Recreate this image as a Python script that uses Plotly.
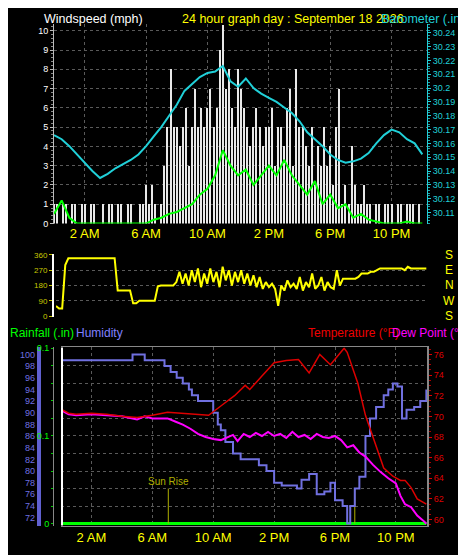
import plotly.graph_objects as go

# ---------------- data ----------------
hour_ticks = [2, 6, 10, 14, 18, 22]
hour_labels = ["2 AM", "6 AM", "10 AM", "2 PM", "6 PM", "10 PM"]

gust_step = 0.2
gust = [1,1,0,1,1,0,1,1,0,1,
        1,0,1,1,0,0,1,0,1,1,
        0,1,1,0,1,1,0,0,1,1,
        2,1,2,1,0,1,3,5,8,5,
        5,4,5,6,3,5,7,5,6,5,
        6,7,5,6,9,10.3,7,8,6,5,
        8,7,6,5,4,5,6,5,4,5,
        5,6,3,5,5,4,6,7,3,8,
        5,5,4,3,5,2,4,3,5,3,
        4,2,5,7,1,2,1,4,2,1,
        1,2,1,1,0,1,1,0,1,1,
        1,0,1,1,0,1,1,1,0,1]

half_step = 0.5
wind_avg = [0.5,1.2,0.3,0,0,0,0,0,0,0,
            0,0,0,0.2,0.3,0.5,0.6,0.8,1,1.5,
            1.8,2.5,3.8,3,2.5,2.8,2,2.5,3,2.5,
            3.3,2.5,2,1.5,2.2,1,1.5,0.8,1,0.3,
            0.5,0.2,0.1,0,0,0,0.1,0,0]

baro = [30.166,30.163,30.158,30.152,30.146,30.140,30.135,30.138,30.142,30.145,
        30.148,30.152,30.158,30.165,30.172,30.180,30.188,30.198,30.203,30.208,
        30.211,30.212,30.216,30.205,30.201,30.207,30.200,30.196,30.193,30.190,
        30.186,30.182,30.176,30.168,30.163,30.158,30.152,30.148,30.146,30.147,
        30.149,30.153,30.160,30.166,30.170,30.168,30.163,30.160,30.152]

dir_step = 0.2
wind_dir = [60,45,45,300,340,340,340,340,340,340,
            340,340,340,340,340,340,340,340,340,340,
            150,150,150,150,150,75,75,90,90,90,
            90,90,90,175,180,180,180,180,180,200,
            260,190,250,180,270,200,280,170,250,190,
            280,200,260,170,290,210,270,180,260,200,
            270,190,250,180,240,170,230,160,200,170,
            190,160,60,180,150,210,170,190,160,230,
            150,200,170,250,160,180,230,150,200,170,
            160,270,180,220,220,220,220,220,230,250,
            250,250,260,260,270,280,280,280,280,280,
            280,280,280,270,290,280,280,280,280,280,280]

hum_hours = [0,4.7,5.5,6.8,7.2,7.6,8,8.4,8.6,9,9.4,10,10.3,10.5,10.8,11.3,11.8,13,13.5,14,
             14.5,15.5,15.8,16.3,16.8,17.3,17.7,18,18.5,18.8,19,19.3,19.6,20,20.3,20.7,21.2,21.5,21.8,22.1,
             22.4,22.7,23.2,23.6,24]
hum_vals = [99,100,99,98,97,96,95,94,93,92,92,90,88,87,85,83,82,81,80,78,
            77.5,77,78.5,79.5,76,76.5,78,75,74,71,74,77,79,86,89,91,93,94,95,94.5,
            89,90.5,91,92,94]

temp_hours = [0,0.5,1,2,3,4,5,6,7,8,9,9.7,10.5,11.4,12.1,12.4,13.2,14,14.8,15.6,
              16.3,17,17.7,18.6,18.8,19.5,20,20.6,21.2,21.8,22.3,22.6,23,23.4,24]
temp_vals = [70.7,70.3,70.2,70.3,70.2,70,69.9,70.1,70.4,70.3,70.2,70.1,71,72,73,72.6,73.9,75.2,75.4,75.5,
             74.2,76,75,76.6,76.2,73.2,70.1,67.5,65,64.2,63.8,63.8,63.1,62,61.5]

dew_hours = [0,0.5,1,2,3,4,5,5.5,6,7,7.5,8,8.5,9,9.5,10,10.5,11,11.3,11.6,
             12,12.4,12.8,13.2,13.6,14,14.4,14.8,15.2,15.6,16,16.4,16.8,17.2,17.6,18,18.4,18.8,19.2,19.6,
             20,20.5,21,21.5,22,22.3,22.6,23,23.4,23.8,24]
dew_vals = [70.6,70.2,70.1,70.2,70.1,70,69.7,70,69.8,69.8,69.5,69.2,68.8,68.3,68,67.8,67.7,68,68.2,67.6,
            68.3,68,68.4,68.1,68.5,68.1,68.3,67.9,68.5,68,68.2,67.8,68.3,68,67.9,68.1,67.7,67,67.2,66.5,
            66.1,65.3,64.6,64,63.5,62.3,61.5,61.2,60.4,59.9,59.6]

rain_hours = [0, 24]
rain_vals = [0, 0]

sunrise = 7.05
sunset = 19.3

# ---------------- figure ----------------
F = "Liberation Sans"
YEL = "#ffff00"
fig = go.Figure()

gx = [i * gust_step for i in range(len(gust))]
fig.add_trace(go.Bar(x=gx, y=gust, width=0.08, marker=dict(color="#e8e8e8", line=dict(width=0)),
                     xaxis="x", yaxis="y"))
fig.add_trace(go.Scatter(x=[i * half_step for i in range(len(wind_avg))], y=wind_avg, mode="lines",
                         line=dict(color="#00ff00", width=2), xaxis="x", yaxis="y"))
fig.add_trace(go.Scatter(x=[i * half_step for i in range(len(baro))], y=baro, mode="lines",
                         line=dict(color="#20d0d8", width=2), xaxis="x", yaxis="y2"))
fig.add_trace(go.Scatter(x=[i * dir_step for i in range(len(wind_dir))], y=wind_dir, mode="lines",
                         line=dict(color=YEL, width=2), xaxis="x2", yaxis="y3"))
fig.add_trace(go.Scatter(x=rain_hours, y=rain_vals, mode="lines", line=dict(color="#00ff00", width=3),
                         xaxis="x3", yaxis="y4"))
fig.add_trace(go.Scatter(x=hum_hours, y=hum_vals, mode="lines", line=dict(color="#7070e0", width=2, shape="hv"),
                         xaxis="x3", yaxis="y5"))
fig.add_trace(go.Scatter(x=dew_hours, y=dew_vals, mode="lines", line=dict(color="#ff00ff", width=2),
                         xaxis="x3", yaxis="y6"))
fig.add_trace(go.Scatter(x=temp_hours, y=temp_vals, mode="lines", line=dict(color="#dd0000", width=1.5),
                         xaxis="x3", yaxis="y6"))
for h in (sunrise, sunset):
    fig.add_trace(go.Scatter(x=[h, h], y=[0, 0.04], mode="lines", line=dict(color="#b0b000", width=1),
                             xaxis="x3", yaxis="y4"))

grid = dict(showgrid=True, gridcolor="#5a5a5a", griddash="dot", gridwidth=1, zeroline=False)
xcommon = dict(tickvals=hour_ticks, ticktext=hour_labels, tickfont=dict(color=YEL, size=13, family=F),
               ticks="", **grid)

fig.update_layout(
    width=466, height=555, margin=dict(l=0, r=0, t=0, b=0),
    paper_bgcolor="black", plot_bgcolor="black", showlegend=False, bargap=0,
    xaxis=dict(domain=[0.0987, 0.899], range=[0, 24.3], anchor="y", **xcommon),
    yaxis=dict(domain=[0.6126, 0.978], range=[0, 10.35], dtick=1, tickfont=dict(color="white", size=9, family=F),
               showline=True, linecolor="#bbbbbb", ticks="outside", ticklen=3, tickcolor="#bbbbbb",
               minor=dict(ticks="outside", ticklen=2, dtick=0.2, tickcolor="#888"), **grid),
    yaxis2=dict(overlaying="y", side="right", anchor="x", range=[30.102, 30.2464], dtick=0.01,
                tickfont=dict(color="#20d0d8", size=9, family=F), showline=True, linecolor="#20d0d8",
                ticks="outside", ticklen=3, tickcolor="#20d0d8", showgrid=False, zeroline=False,
                minor=dict(ticks="outside", ticklen=2, dtick=0.002, tickcolor="#20a0a8")),
    xaxis2=dict(domain=[0.103, 0.901], range=[0, 24.1], anchor="y3", showticklabels=False, showgrid=False,
                zeroline=False),
    yaxis3=dict(domain=[0.4414, 0.5568], range=[-5, 365], tickvals=[0, 90, 180, 270, 360],
                tickfont=dict(color="#c8c800", size=8, family=F), showline=True, linecolor="white", linewidth=2,
                ticks="outside", ticklen=3, tickcolor="#c8c800", **grid),
    xaxis3=dict(domain=[0.1137, 0.901], range=[0, 24.1], anchor="y4", showline=True, linecolor="#888",
                mirror=True, **xcommon),
    yaxis4=dict(domain=[0.0595, 0.3856], range=[-0.0022, 0.201], tickvals=[0, 0.1, 0.2], ticktext=["0", "0.1", "0.1"],
                tickfont=dict(color="#00ff00", size=9, family=F), showline=True, linecolor="#888", mirror=True,
                ticks="outside", ticklen=2, tickcolor="#00cc00",
                minor=dict(ticks="outside", ticklen=2, dtick=0.02, tickcolor="#00cc00", showgrid=True,
                           gridcolor="#5a5a5a", griddash="dot"),
                showgrid=True, gridcolor="#5a5a5a", griddash="dot", zeroline=False),
    yaxis5=dict(overlaying="y4", anchor="free", position=0.066, side="left", range=[70.65, 101.2], dtick=2,
                tickfont=dict(color="#7070e0", size=9, family=F), showline=True, linecolor="#6060d0", linewidth=4,
                ticks="", showgrid=False, zeroline=False),
    yaxis6=dict(overlaying="y4", anchor="x3", side="right", range=[59.43, 76.67], dtick=2,
                tickfont=dict(color="#dd0000", size=9, family=F), showline=True, linecolor="#888",
                ticks="outside", ticklen=3, tickcolor="#dd0000",
                minor=dict(ticks="outside", ticklen=2, dtick=0.5, tickcolor="#aa0000"),
                showgrid=False, zeroline=False),
)

fig.add_shape(type="line", xref="paper", yref="paper", x0=54/466, x1=54/466, y0=0.0595, y1=0.3856,
              line=dict(color="white", width=2))

def ann(x, y, text, color, anchor="left", size=12, xref="paper", yref="paper"):
    fig.add_annotation(x=x, y=y, xref=xref, yref=yref, text=text, showarrow=False, xanchor=anchor,
                       yanchor="middle", font=dict(color=color, size=size, family=F))

ann(34/466, 1 - 7/555, "Windspeed (mph)", "white", size=12.5)
ann(172/466, 1 - 7/555, "24 hour graph day : September 18 2026", YEL, size=12.5)
ann(371/466, 1 - 7/555, "Barometer (.in)", "#20d0d8", size=12.5)
ann(0, 1 - 326/555, "Rainfall (.in)", "#00ff00")
ann(66/466, 1 - 326/555, "Humidity", "#8080ff")
ann(393/466, 1 - 326/555, "Temperature (°F)", "#ee0000", anchor="right")
ann(464/466, 1 - 326/555, "Dew Point (°F)", "#ff00ff", anchor="right")
for v, t in zip([360, 270, 180, 90, 0], ["S", "E", "N", "W", "S"]):
    ann(441/466, v, t, YEL, anchor="center", size=12, yref="y3")
ann(sunrise, 0.048, "Sun Rise", "#b0b000", anchor="center", size=10, xref="x3", yref="y4")

fig.write_html("out.html")
